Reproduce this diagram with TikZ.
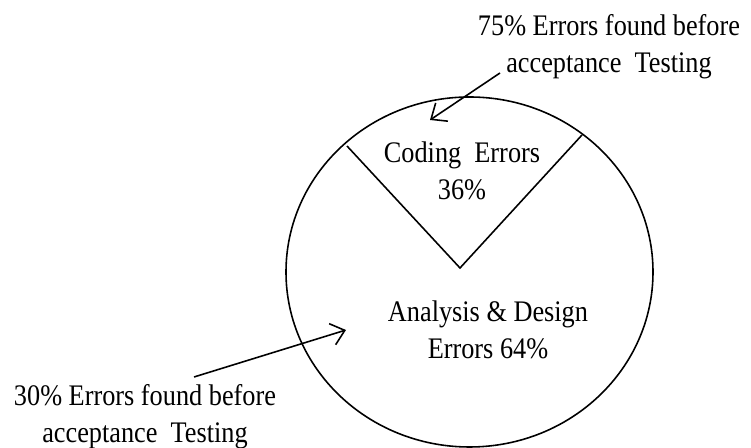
\documentclass[tikz,border=0pt]{standalone}
\usepackage{fontspec}
\setmainfont{Liberation Serif}
\usetikzlibrary{arrows.meta}

\begin{document}
\begin{tikzpicture}[x=0.02cm,y=-0.02cm,
        lbl/.style={font=\fontsize{17}{21}\selectfont,align=center,inner sep=0pt,xscale=0.88,transform shape},
        pointer/.style={-{Straight Barb[length=2.6mm,width=4.4mm]},line width=0.9pt}]
        \useasboundingbox (0,0) rectangle (751,448);
        % pie
        \draw[line width=0.9pt] (469.5,272) ellipse [x radius=183.5,y radius=175];
        \coordinate (apex) at (460,268);
        \coordinate (cutL) at (347,146);
        \coordinate (cutR) at (582,135);
        \draw[line width=0.9pt] (cutL)--(apex)--(cutR);
        \node[lbl] (coding) at (462,171) {Coding~~Errors\\36\%};
        \node[lbl] (design) at (488,330) {Analysis \& Design\\Errors 64\%};

        % notes
        \node[lbl] (topnote) at (609,47) {75\% Errors found before\\acceptance~~Testing};
        \node[lbl] (lownote) at (145,417) {30\% Errors found before\\acceptance~~Testing};
        \coordinate (topfrom) at (500,73);
        \coordinate (topto) at (430,120);
        \coordinate (lowfrom) at (194,377);
        \coordinate (lowto) at (346,330);
        \draw[pointer] (topfrom)--(topto);
        \draw[pointer] (lowfrom)--(lowto);
    \end{tikzpicture}
\end{document}
